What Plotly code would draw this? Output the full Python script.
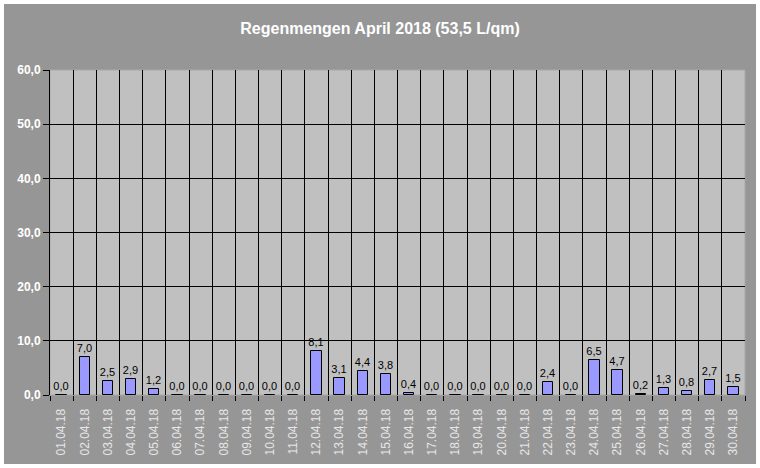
import plotly.graph_objects as go

dates = ["01.04.18","02.04.18","03.04.18","04.04.18","05.04.18","06.04.18","07.04.18","08.04.18",
         "09.04.18","10.04.18","11.04.18","12.04.18","13.04.18","14.04.18","15.04.18","16.04.18",
         "17.04.18","18.04.18","19.04.18","20.04.18","21.04.18","22.04.18","23.04.18","24.04.18",
         "25.04.18","26.04.18","27.04.18","28.04.18","29.04.18","30.04.18"]
rain = [0.0,7.0,2.5,2.9,1.2,0.0,0.0,0.0,0.0,0.0,0.0,8.1,3.1,4.4,3.8,0.4,
        0.0,0.0,0.0,0.0,0.0,2.4,0.0,6.5,4.7,0.2,1.3,0.8,2.7,1.5]
y_ticks = [0, 10, 20, 30, 40, 50, 60]
title = "Regenmengen April 2018 (53,5 L/qm)"

x_pos = list(range(1, len(dates) + 1))
boundaries = [i + 0.5 for i in range(0, len(dates) + 1)]

W, H = 760, 468
L, R, T, B = 50, 15, 70, 73
pw, ph = W - L - R, H - T - B

def px_x(p):
    return (p - L) / pw

def px_y(p):
    return (H - B - p) / ph

FONT = "Liberation Sans, Arial"

fig = go.Figure()
fig.add_trace(go.Bar(
    x=x_pos, y=rain, width=0.44,
    marker=dict(color="#9999ff", line=dict(color="#000000", width=1)),
    texttemplate="%{y:.1f}", textposition="outside", cliponaxis=False,
    constraintext="none",
    textfont=dict(family=FONT, size=11, color="#000000"),
    hoverinfo="skip",
))

fig.update_layout(
    width=W, height=H,
    margin=dict(l=L, r=R, t=T, b=B),
    paper_bgcolor="#ffffff",
    plot_bgcolor="rgba(0,0,0,0)",
    separators=",.",
    showlegend=False,
    bargap=0,
    title=dict(text="<b>" + title + "</b>", x=0.5, xanchor="center", y=1 - 28 / H, yanchor="middle",
               font=dict(family=FONT, size=16, color="#ffffff")),
    shapes=[
        dict(type="rect", xref="paper", yref="paper", layer="below",
             x0=px_x(4), x1=px_x(756), y0=px_y(464), y1=px_y(4),
             fillcolor="#969696", line=dict(width=0)),
        dict(type="rect", xref="paper", yref="paper", layer="below",
             x0=0, x1=1, y0=0, y1=1,
             fillcolor="#c0c0c0", line=dict(color="#a8a8a8", width=1)),
    ],
    xaxis=dict(
        range=[0.5, len(dates) + 0.5],
        tickmode="array", tickvals=x_pos, ticktext=dates, tickangle=-90,
        ticks="outside", ticklen=8, tickcolor="rgba(0,0,0,0)",
        showgrid=False, zeroline=False,
        showline=False,
        tickfont=dict(family=FONT, size=12, color="#e6e6e6"),
        minor=dict(tickmode="array", tickvals=boundaries, ticks="outside", ticklen=5,
                   tickcolor="#000000", showgrid=True, gridcolor="#000000", gridwidth=1),
    ),
    yaxis=dict(
        range=[0, 60],
        tickmode="array", tickvals=y_ticks, tickformat=".1f",
        ticks="outside", ticklen=6, tickcolor="#000000",
        showgrid=False, zeroline=False,
        showline=True, linecolor="#000000", linewidth=1,
        tickfont=dict(family=FONT, size=12, color="#ffffff", weight="bold"),
        minor=dict(tickmode="array", tickvals=y_ticks[:-1], ticks="", showgrid=True,
                   gridcolor="#000000", gridwidth=1),
    ),
)

fig.write_html("out.html", config={"displayModeBar": False},
               post_script="document.body.style.margin='0';")
